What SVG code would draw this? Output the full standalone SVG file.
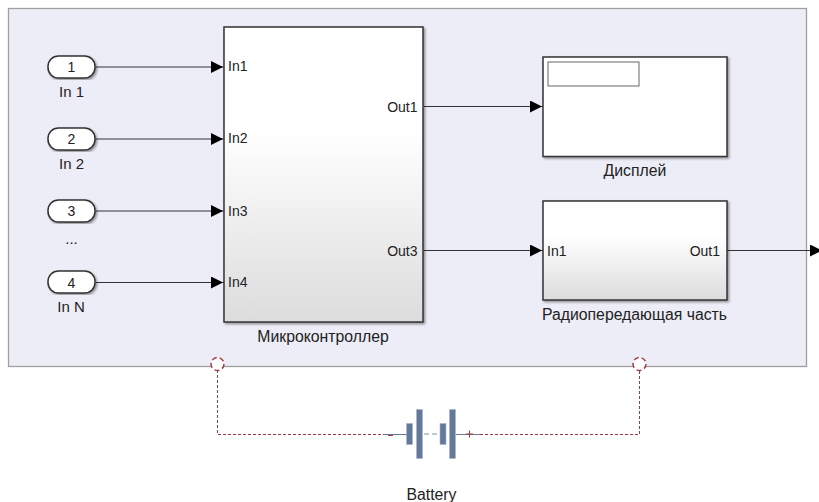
<svg xmlns="http://www.w3.org/2000/svg" width="819" height="502" viewBox="0 0 819 502">
<defs>
<linearGradient id="g" x1="0" y1="0" x2="0" y2="1"><stop offset="0" stop-color="#fff"/><stop offset="0.35" stop-color="#fff"/><stop offset="1" stop-color="#dcdcdc"/></linearGradient>
<marker id="arr" markerUnits="userSpaceOnUse" markerWidth="13" markerHeight="12" refX="13" refY="6" orient="auto"><path d="M0 0L12 6L0 12z" fill="#000"/></marker>
<filter id="sh" x="-5%" y="-5%" width="112%" height="112%"><feDropShadow dx="1.5" dy="1.5" stdDeviation="1.2" flood-color="#000" flood-opacity="0.4"/></filter>
</defs>
<style>
text{font-family:"Liberation Sans",Arial,sans-serif;font-size:14px;fill:#222}
.c{text-anchor:middle}
.e{text-anchor:end}
.n{font-size:15px}
.t{font-size:15.800px}
.b{fill:url(#g);stroke:#333;stroke-width:1.5;filter:url(#sh)}
.w{fill:#fff;stroke:#333;stroke-width:1.5;filter:url(#sh)}
.l{fill:none;stroke:#333;stroke-width:1.2;marker-end:url(#arr)}
.p{fill:none;stroke:#a33a3f;stroke-width:1;stroke-dasharray:3 2}
.r{fill:#fff;stroke:#a33a3f;stroke-width:1.5;stroke-dasharray:5 3}
.bat{fill:#64789a;stroke:#a9b5c9;stroke-width:.6}
</style>
<rect id="frame" x="8.500" y="8.500" width="798" height="358" fill="#ecedf6" stroke="#a0a0a0" stroke-width="1.300"/>
<g id="connectors">
<path class="l" d="M96 67H224"/>
<path class="l" d="M96 139H224"/>
<path class="l" d="M96 211H224"/>
<path class="l" d="M96 282.500H224"/>
<path class="l" d="M424 106.500H543"/>
<path class="l" d="M424 250.500H543"/>
<path class="l" d="M727 250.500H823"/>
<path class="p" d="M217.500 370V434.500H386"/>
<path class="p" d="M480 434.500H639.500V370"/>
</g>
<g id="in1"><rect class="w" x="48" y="56" width="47" height="22" rx="10.500"/><text class="c" x="71.500" y="72">1</text><text class="c n" x="71.500" y="97">In 1</text></g>
<g id="in2"><rect class="w" x="48" y="128" width="47" height="22" rx="10.500"/><text class="c" x="71.500" y="144">2</text><text class="c n" x="71.500" y="169">In 2</text></g>
<g id="in3"><rect class="w" x="48" y="200" width="47" height="22" rx="10.500"/><text class="c" x="71.500" y="216">3</text><text class="c n" x="71.500" y="244">...</text></g>
<g id="in4"><rect class="w" x="48" y="271" width="47" height="22" rx="10.500"/><text class="c" x="71.500" y="287.500">4</text><text class="c n" x="71" y="312">In N</text></g>
<g id="mcu"><rect class="b" x="224" y="27" width="199" height="295"/>
<text x="228" y="71">In1</text><text x="228" y="143">In2</text><text x="228" y="215.500">In3</text><text x="228" y="287">In4</text>
<text class="e" x="417.500" y="111.500">Out1</text><text class="e" x="417.500" y="255.500">Out3</text>
<text class="c t" x="323" y="342">Микроконтроллер</text></g>
<g id="display"><rect class="w" x="543" y="57" width="184" height="99.500"/>
<rect x="548" y="62" width="91" height="24" fill="#fff" stroke="#666" stroke-width="1"/>
<text class="c t" x="635" y="176">Дисплей</text></g>
<g id="radio"><rect class="b" x="543" y="201" width="184" height="99"/>
<text x="547" y="255.500">In1</text><text class="e" x="720" y="255.500">Out1</text>
<text class="c t" x="634.500" y="320">Радиопередающая часть</text></g>
<g id="port-left"><circle class="r" cx="217.500" cy="364" r="6.500"/></g>
<g id="port-right"><circle class="r" cx="639.500" cy="364" r="6.500"/></g>
<g id="battery">
<path d="M384 434.500H407M456 434.500H480" stroke="#64789a" stroke-width="1.200" fill="none"/>
<path d="M424 434H440" stroke="#a9b5c9" stroke-width="1.500" stroke-dasharray="5 3" fill="none"/>
<rect class="bat" x="406.500" y="423.500" width="6" height="21"/>
<rect class="bat" x="416.500" y="409.500" width="6" height="49"/>
<rect class="bat" x="440" y="423.500" width="6" height="21"/>
<rect class="bat" x="449.500" y="409.500" width="6" height="49"/>
<path d="M388 435.500H393M466 434H473M469.500 430.500V437.500" stroke="#a33a3f" stroke-width="1" fill="none"/>
<text class="c t" x="431.500" y="500">Battery</text></g>
</svg>
